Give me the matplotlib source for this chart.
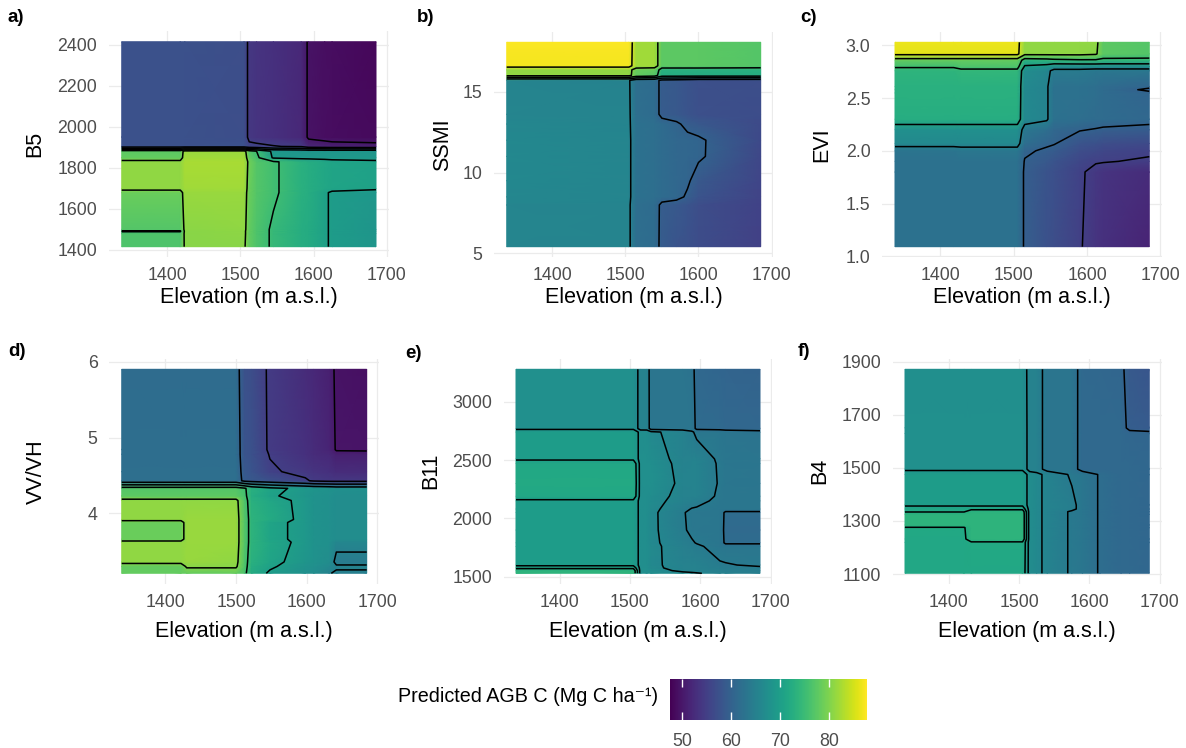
import numpy as np
import matplotlib.pyplot as plt
from matplotlib.colors import Normalize
from matplotlib.colorbar import ColorbarBase

plt.rcParams['font.family'] = ['Liberation Sans', 'DejaVu Sans']

# shared colour scale (Predicted AGB C, Mg C ha-1)
agb_min, agb_max = 47.5, 87.7
legend_ticks = [50, 60, 70, 80]
elev_ticks = [1400, 1500, 1600, 1700]

# ---- a) B5 -------------------------------------------------------------
a_elev = [1338, 1418, 1424, 1505, 1512, 1522, 1545, 1583, 1593, 1615, 1625, 1685]
a_b5 = [1416, 1480, 1492, 1500, 1680, 1700, 1830, 1850, 1882, 1905, 1950, 2416]
a_agb = [
    [76.5, 76.5, 80.5, 80.5, 78, 76.5, 74.5, 72.5, 72, 70.5, 69.5, 68.5],
    [76.5, 76.5, 80.6, 80.8, 78, 76.5, 74.5, 72.5, 72, 70.5, 69.5, 68.5],
    [74.5, 74.5, 80.6, 80.8, 78, 76.5, 74.5, 72.5, 72, 70.5, 69.5, 68.5],
    [77, 77, 80.7, 81, 78, 76.5, 74.5, 72.5, 72, 70.5, 69.5, 68.5],
    [78.5, 78.5, 81.5, 81.5, 78.5, 77, 75.5, 73, 72.5, 70.5, 69.5, 68.8],
    [81, 81, 82, 82, 78.5, 77, 75.5, 73, 72.5, 71.5, 71, 70.5],
    [81, 81, 82.5, 82.5, 79, 77, 75.5, 73, 72.5, 71.5, 71, 70.5],
    [78, 78, 82, 82, 78, 76, 69.5, 69, 69, 69, 69, 69],
    [77.5, 77.5, 81.5, 81.5, 77, 75, 69, 68.5, 68.5, 68.5, 68.5, 68.5],
    [57.5, 57.5, 57.5, 57.5, 56, 55.8, 55.2, 54.5, 52, 51.5, 51.2, 51],
    [57.5, 57.5, 57.5, 57, 54, 53.5, 53, 52, 49.5, 49, 48.8, 48.5],
    [57.5, 57.5, 57.5, 57, 54, 53.5, 53, 52, 49.5, 49, 48.8, 48.2],
]
a_ticks = [1400, 1600, 1800, 2000, 2200, 2400]

# ---- b) SSMI -----------------------------------------------------------
b_elev = [1338, 1505, 1515, 1540, 1550, 1570, 1585, 1600, 1685]
b_ssmi = [5.42, 8.0, 8.5, 9.5, 11.0, 12.0, 13.0, 13.6, 15.7, 16.0, 16.35, 16.6, 18.05]
b_agb = [
    [65.8, 65.6, 62, 61.5, 59, 58, 57.5, 56.8, 55.3],
    [65.8, 65.6, 62, 61.5, 59.2, 58.5, 58, 57, 55.4],
    [66.1, 65.8, 62.5, 62, 61.5, 61, 59.5, 58, 55.6],
    [66.3, 65.8, 62.5, 62, 61.5, 61, 60.5, 58.5, 55.8],
    [66.3, 65.8, 62.5, 62, 61.5, 61, 60.8, 60.5, 56],
    [66.3, 65.8, 62.5, 62, 61.5, 61, 60.8, 60.5, 56.3],
    [66.1, 65.6, 62.5, 62, 61.5, 60.5, 59.2, 58.5, 56.6],
    [65.8, 65.6, 62, 61.5, 59, 58.5, 58, 57.3, 56.8],
    [65.6, 65.4, 62, 61.5, 59, 58.5, 58, 57.3, 57],
    [81, 81, 78, 77, 72, 72, 72, 72, 72],
    [81, 81, 78.5, 78, 73, 73, 73, 73, 73],
    [87, 87, 82, 82, 77.5, 77.5, 77.5, 77.5, 77],
    [87.5, 87.5, 82, 82, 77.5, 77.5, 77.5, 77.5, 77],
]
b_ticks = [5, 10, 15]

# ---- c) EVI ------------------------------------------------------------
c_elev = [1338, 1418, 1428, 1505, 1515, 1545, 1555, 1590, 1612, 1622, 1685]
c_evi = [1.09, 1.80, 1.90, 2.00, 2.07, 2.20, 2.30, 2.55, 2.58, 2.61, 2.76, 2.80, 2.86, 2.92, 3.03]
c_agb = [
    [62.5, 62.5, 62.5, 62.5, 59.5, 57.5, 57, 55.3, 53.5, 53, 51.5],
    [62.5, 62.5, 62.5, 62.5, 59.5, 57.8, 57.3, 55.5, 54, 53.5, 52.5],
    [62.5, 62.5, 62.5, 62.5, 59.8, 58.5, 58, 56, 55.3, 55.2, 54.6],
    [63, 63, 63.5, 63.5, 60.5, 59.5, 59, 57, 56.5, 56, 55.5],
    [66.5, 66.5, 66.5, 66.5, 62, 60.5, 60.2, 58, 57.5, 57, 56.5],
    [67.5, 67.5, 67.5, 67.5, 63.5, 62, 61, 60.2, 59.8, 59.5, 59],
    [72.5, 72.5, 72.5, 72.5, 66.5, 65.5, 62.5, 62, 61.5, 61.5, 61],
    [73, 73, 73, 73, 66.5, 65.5, 62.5, 62.5, 62, 61.5, 60.5],
    [73, 73, 73, 73, 66.5, 65.5, 62.5, 62.5, 62, 61.5, 59.5],
    [73, 73, 73, 73, 66.5, 65.5, 62.5, 62.5, 62, 61.5, 60.5],
    [73.5, 73.5, 74, 74, 67, 66, 64, 64, 63.5, 63.5, 63.5],
    [75.5, 75.5, 76.5, 76.5, 69.5, 68.5, 67, 67, 67, 67, 67],
    [78, 78, 78, 78, 73, 73.5, 74, 74.5, 74.5, 74, 74],
    [86, 86, 86, 86, 81, 81, 81, 81, 80.5, 77.5, 77],
    [86.5, 86.5, 86.5, 86.5, 81, 81, 81, 81, 81, 77.5, 77],
]
c_ticks = [1.0, 1.5, 2.0, 2.5, 3.0]

# ---- d) VV/VH ----------------------------------------------------------
d_elev = [1338, 1422, 1430, 1500, 1512, 1522, 1548, 1598, 1610, 1632, 1642, 1685]
d_vvvh = [3.21, 3.30, 3.36, 3.62, 3.66, 3.88, 3.92, 4.17, 4.23, 4.33, 4.43, 4.55, 4.78, 4.84, 5.9]
d_agb = [
    [78, 78, 78, 78, 76, 72, 69.5, 67.5, 67, 65.2, 64.5, 64.5],
    [78, 78, 80.5, 80.5, 76.5, 72.5, 70.5, 68, 67.5, 66.5, 65.5, 65.5],
    [81, 81, 81.5, 81, 76.5, 73, 71, 68.5, 68, 67, 64, 64],
    [81, 81, 81.5, 81.5, 77, 73.5, 71.5, 69, 68, 67.5, 66, 66],
    [78.5, 78.5, 81.5, 81.5, 77, 73.5, 71, 69, 68, 67.5, 67, 67],
    [78.5, 78.5, 81.5, 81.5, 77, 73.5, 71, 69, 68, 67.5, 67, 67],
    [81, 81, 81.5, 81.5, 77, 73.5, 72, 69, 68, 67.5, 67, 67],
    [81, 81, 81, 81, 76.5, 73, 71.5, 69, 68, 67.5, 67, 67],
    [77.5, 77.5, 77.5, 77.5, 76, 72.5, 70.5, 68.5, 68, 67.5, 67, 67],
    [77, 77, 77, 77, 75.5, 73, 71, 69, 68.5, 68, 67.5, 67.5],
    [62, 62, 62, 62, 59, 58.5, 57.5, 55.5, 54.5, 54, 54, 54],
    [62, 62, 62, 62, 58.5, 58, 55.5, 54, 53.5, 53, 52.5, 52.5],
    [61.8, 61.8, 61.8, 61.8, 58, 57.5, 54.8, 53, 52.5, 52, 51, 51],
    [61.8, 61.8, 61.8, 61.8, 58, 57.5, 54.5, 53, 52.5, 51.5, 49.7, 49.6],
    [61.5, 61.5, 61.5, 61.5, 57.5, 57, 54.5, 52.5, 52, 51, 49.5, 49.2],
]
d_ticks = [4, 5, 6]

# ---- e) B11 ------------------------------------------------------------
e_elev = [1338, 1505, 1515, 1524, 1530, 1575, 1588, 1595, 1628, 1636, 1685]
e_b11 = [1529, 1552, 1575, 1600, 1760, 1790, 1900, 2050, 2080, 2150, 2190,
         2300, 2470, 2510, 2740, 2770, 3278]
e_agb = [
    [73.5, 73.5, 67.3, 67.3, 67.3, 66.6, 66.4, 66.2, 65.3, 65.1, 64.6],
    [73.5, 73.5, 67.3, 67.3, 67, 65.5, 65.2, 65.1, 64.8, 64.7, 64.5],
    [71.5, 71.5, 67.3, 67.3, 66.6, 65.1, 65.1, 65.1, 64.5, 64.3, 64.2],
    [69.5, 69.5, 67.3, 67.2, 66.5, 65.1, 65.1, 65.1, 64.2, 64.1, 63.8],
    [69.5, 69.5, 67.3, 67.2, 66.6, 64.8, 64.5, 64.3, 63.3, 63.3, 63.3],
    [69.5, 69.5, 67.3, 67.2, 66.5, 64.7, 64.2, 63.9, 63.3, 61.5, 61.5],
    [69.5, 69.5, 67.3, 67.2, 66.5, 64.3, 63.6, 63.5, 63.3, 61.3, 61.3],
    [69.5, 69.5, 67.3, 67.2, 66.5, 64.2, 63.5, 63.4, 63.3, 61.5, 61.5],
    [69.5, 69.5, 67.3, 67.2, 66.6, 64.5, 63.9, 63.8, 63.3, 63.3, 63.3],
    [69.5, 69.5, 67.3, 67.2, 66.8, 65.1, 64.8, 64.6, 63.5, 63.3, 63.3],
    [71.5, 71.5, 67.3, 67.2, 67.1, 65.2, 65.2, 65.3, 63.6, 63.3, 63.3],
    [71.8, 71.8, 67.3, 67.3, 67.5, 65.5, 65.5, 65.5, 63.8, 63.3, 63.2],
    [71.5, 71.5, 67.3, 67.3, 67.3, 65.3, 65.5, 65.5, 63.7, 63.3, 63.2],
    [69.5, 69.5, 67.3, 67.3, 67.1, 65.2, 65.3, 65.3, 63.6, 63.3, 63.1],
    [69.5, 69.5, 67.3, 67.2, 66.4, 65.1, 64.3, 63.5, 63.3, 63.2, 62.8],
    [67.5, 67.5, 65.1, 65.1, 63.2, 63.2, 63.1, 61.5, 61.3, 61, 60.7],
    [67.5, 67.5, 65.1, 65.1, 63.1, 63.1, 62.8, 61.1, 60.6, 60.4, 60.2],
]
e_ticks = [1500, 2000, 2500, 3000]

# ---- f) B4 -------------------------------------------------------------
f_elev = [1338, 1422, 1432, 1505, 1515, 1525, 1540, 1575, 1590, 1615, 1645, 1657, 1685]
f_b4 = [1103, 1220, 1232, 1275, 1285, 1325, 1335, 1345, 1360, 1475, 1495, 1630, 1650, 1871]
f_agb = [
    [71.5, 71.5, 71.5, 71.5, 67.1, 66.5, 65.5, 63.7, 63.3, 61.8, 61.1, 61.1, 60.8],
    [71.5, 71.5, 71.8, 71.8, 67.1, 66.5, 65.5, 63.7, 63.3, 61.8, 61.1, 61.1, 60.8],
    [71.5, 71.5, 73.5, 73.5, 67.1, 66.5, 65.5, 63.7, 63.3, 61.8, 61.1, 61.1, 60.8],
    [71.8, 71.8, 73.5, 73.5, 67.1, 66.5, 65.5, 63.7, 63.3, 61.8, 61.1, 61.1, 60.8],
    [73.5, 73.5, 73.5, 73.5, 67.1, 66.5, 65.5, 63.7, 63.3, 61.8, 61.1, 61.1, 60.8],
    [73.5, 73.5, 73.5, 73.5, 67.1, 66.5, 65.5, 63.7, 63.3, 61.8, 61.1, 61.1, 60.8],
    [71.8, 71.8, 73.3, 73.3, 67.1, 66.5, 65.5, 63.7, 63.3, 61.8, 61.1, 61.1, 60.8],
    [71.5, 71.5, 71.5, 71.5, 67.1, 66.5, 65.5, 64.5, 63.3, 61.8, 61.1, 61.1, 60.8],
    [69.5, 69.5, 69.5, 69.5, 67.1, 66.5, 65.5, 64.5, 63.3, 61.8, 61.1, 61.1, 60.8],
    [69.5, 69.5, 69.5, 69.5, 67.1, 66.5, 65.5, 63.7, 63.3, 61.8, 61.1, 61.1, 60.8],
    [67.5, 67.5, 67.5, 67.5, 65.1, 65.1, 63.1, 63.1, 61.1, 61.1, 61.1, 61.1, 60.8],
    [67.5, 67.5, 67.5, 67.5, 65.1, 65.1, 63.1, 63.1, 61.1, 61.1, 61.1, 60.8, 60.6],
    [67.5, 67.5, 67.5, 67.5, 65.1, 65.1, 63.1, 63.1, 61.1, 61.1, 61.1, 59.3, 58.9],
    [67.3, 67.3, 67.3, 67.3, 65.1, 65.1, 63.1, 63.1, 61.1, 60.9, 60.6, 58.8, 58.2],
]
f_ticks = [1100, 1300, 1500, 1700, 1900]

# ---- layout -------------------------------------------------------------
W, H = 1186, 748
fig = plt.figure(figsize=(W / 100, H / 100), dpi=100)
norm = Normalize(agb_min, agb_max)
grey = '#4d4d4d'


def rect(left, top, right, bottom):
    # pixel box of the raster -> axes rectangle with ggplot's 5 % expansion
    w, h = right - left, bottom - top
    l, r = left - 0.05 * w, right + 0.05 * w
    t, b = top - 0.05 * h, bottom + 0.05 * h
    return [l / W, 1 - b / H, (r - l) / W, (b - t) / H]


panels = [
    ('a)', 'B5', a_elev, a_b5, a_agb, a_ticks, None, 5,
     (121.7, 41.7, 376, 246.7), (8, 18), 35),
    ('b)', 'SSMI', b_elev, b_ssmi, b_agb, b_ticks, None, 5,
     (506.7, 42.3, 760.7, 246.7), (417, 18), 443),
    ('c)', 'EVI', c_elev, c_evi, c_agb, c_ticks, ['1.0', '1.5', '2.0', '2.5', '3.0'], 5,
     (895, 42.3, 1149.3, 246.7), (800, 18), 822),
    ('d)', 'VV/VH', d_elev, d_vvvh, d_agb, d_ticks, None, 5,
     (121.7, 369.3, 366.7, 573.3), (8, 352), 36),
    ('e)', 'B11', e_elev, e_b11, e_agb, e_ticks, None, 2,
     (516, 369.3, 760, 573.3), (405, 353), 431),
    ('f)', 'B4', f_elev, f_b4, f_agb, f_ticks, None, 2,
     (905, 369.3, 1149.3, 573.3), (798, 351), 820),
]

for tag, name, xs, ys, zs, yt, ytl, step, box, tagxy, ylab_x in panels:
    ax = fig.add_axes(rect(*box))
    X, Y = np.meshgrid(xs, ys)
    Z = np.array(zs)
    ax.pcolormesh(X, Y, Z, shading='gouraud', cmap='viridis', norm=norm, zorder=2)
    ax.contour(X, Y, Z, levels=np.arange(50, 90, step), colors='black',
               linewidths=1.1, zorder=3)

    dx = 0.05 * (xs[-1] - xs[0])
    dy = 0.05 * (ys[-1] - ys[0])
    ax.set_xlim(xs[0] - dx, xs[-1] + dx)
    ax.set_ylim(ys[0] - dy, ys[-1] + dy)
    ax.set_xticks(elev_ticks)
    ax.set_yticks(yt)
    if ytl:
        ax.set_yticklabels(ytl)
    ax.grid(color='#ebebeb', lw=0.9)
    ax.set_axisbelow(True)
    for s in ax.spines.values():
        s.set_visible(False)
    ax.tick_params(length=0, labelsize=12.8, labelcolor=grey)
    ax.tick_params(axis='x', pad=7.5)
    ax.tick_params(axis='y', pad=8.5)

    # axis titles and panel tag
    xc = (box[0] + box[2]) / 2
    xl_y = 298 if box[1] < 300 else 631
    fig.text(xc / W, 1 - xl_y / H, 'Elevation (m a.s.l.)', ha='center', va='center',
             fontsize=15.5)
    fig.text(ylab_x / W, 1 - (box[1] + box[3]) / 2 / H, name, rotation=90,
             ha='center', va='center', fontsize=15.5)
    fig.text(tagxy[0] / W, 1 - tagxy[1] / H, tag, ha='left', va='center',
             fontsize=13.5, fontweight='bold')

# ---- colour legend -------------------------------------------------------
cax = fig.add_axes([670 / W, 1 - 720 / H, (867 - 670) / W, (720 - 679) / H])
cb = ColorbarBase(cax, cmap='viridis', norm=norm, orientation='horizontal')
cb.outline.set_visible(False)
cb.set_ticks(legend_ticks)
cax.tick_params(length=0, labelsize=12.8, labelcolor=grey, pad=9.5)
cax.vlines(legend_ticks, 0, 0.2, colors='white', lw=1)
cax.vlines(legend_ticks, 0.8, 1, colors='white', lw=1)
fig.text(398 / W, 1 - 697 / H, 'Predicted AGB C (Mg C ha\u207b\u00b9)', ha='left',
         va='center', fontsize=14.2)

fig.savefig('out.png', dpi=100, facecolor='white')
